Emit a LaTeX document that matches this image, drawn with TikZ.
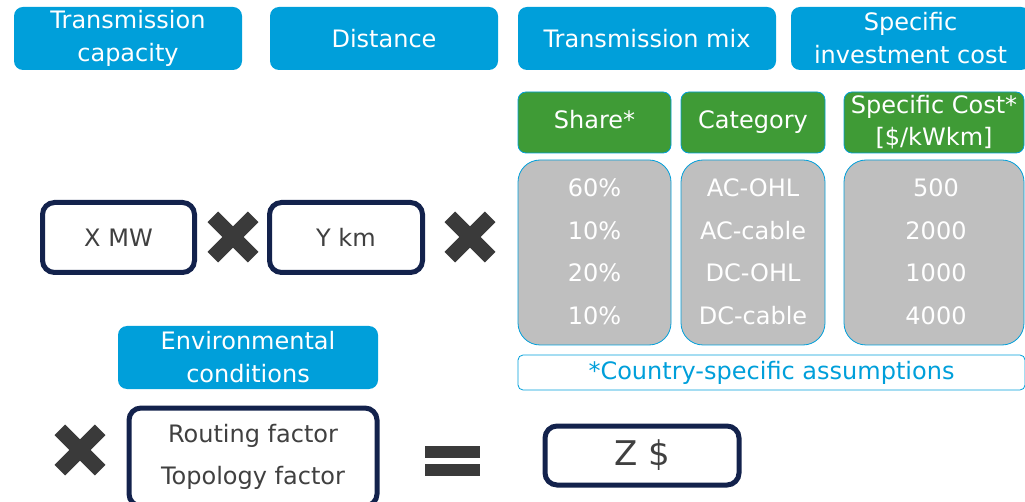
\documentclass[tikz,border=0pt]{standalone}
\usepackage{fontspec}
\setmainfont{DejaVu Sans}

\definecolor{capblue}{HTML}{009FDA}
\definecolor{mixgreen}{HTML}{3F9B36}
\definecolor{cellgray}{HTML}{BFBFBF}
\definecolor{framenavy}{HTML}{13224C}
\definecolor{markgray}{HTML}{3A3A3A}
\definecolor{valtext}{HTML}{404040}

\tikzset{
  txt/.style={font=\fontsize{24}{33}\selectfont, align=center, inner sep=0pt},
  % blue parameter headers
  param/.style={txt, fill=capblue, text=white, rounded corners=9pt, minimum height=63pt},
  % green column headers
  colhead/.style={txt, fill=mixgreen, draw=capblue, line width=0.8pt, text=white,
    rounded corners=8pt, minimum height=61pt, font=\fontsize{24}{32}\selectfont},
  column/.style={fill=cellgray, draw=capblue, line width=0.8pt, rounded corners=22pt,
    minimum height=185pt, inner sep=0pt},
  cell/.style={txt, text=white},
  % framed input / result values
  value/.style={txt, draw=framenavy, line width=5pt, rounded corners=12pt, fill=white,
    text=valtext, font=\fontsize{24}{42}\selectfont},
  pics/crossmark/.style={code={
    \fill[markgray, rotate=45] (-28.5pt,-7.5pt) rectangle (28.5pt,7.5pt);
    \fill[markgray, rotate=-45] (-28.5pt,-7.5pt) rectangle (28.5pt,7.5pt);
  }},
  pics/equalsmark/.style={code={
    \fill[markgray] (-27.5pt,-16pt) rectangle (27.5pt,-4pt);
    \fill[markgray] (-27.5pt,2pt) rectangle (27.5pt,14pt);
  }}
}

\begin{document}
\begin{tikzpicture}[x=1pt, y=-1pt]
  \useasboundingbox (0,0) rectangle (1025,502);
  \clip (0,0) rectangle (1025,502);

  % parameter headers
  \node[param, minimum width=228pt] (capacity) at (128,38.5) {Transmission\\capacity};
  \node[param, minimum width=228pt] (distance) at (384,38.5) {Distance};
  \node[param, minimum width=258pt] (mix) at (647,38.5) {Transmission mix};
  \node[param, minimum width=239pt] (invest) at (910.5,38.5) {Specific\\investment cost};

  % transmission mix table
  \node[colhead, minimum width=153pt, execute at begin node=\strut] (share)
    at (594.5,122.5) {Share*};
  \node[colhead, minimum width=144pt, execute at begin node=\strut] (category)
    at (753,122.5) {Category};
  \node[colhead, minimum width=180pt] (cost) at (934,122.5) {Specific Cost*\\{[\$/kWkm]}};

  \node[column, minimum width=153pt] (sharecol) at (594.5,252.5) {};
  \node[column, minimum width=144pt] (catcol) at (753,252.5) {};
  \node[column, minimum width=180pt] (costcol) at (934,252.5) {};

  \foreach \sh/\ca/\co [count=\i] in {60\%/AC-OHL/500, 10\%/AC-cable/2000,
      20\%/DC-OHL/1000, 10\%/DC-cable/4000} {
    \node[cell] (share\i) at (594.5,145.5+42.5*\i) {\sh};
    \node[cell] (cat\i) at (753,145.5+42.5*\i) {\ca};
    \node[cell] (cost\i) at (936,145.5+42.5*\i) {\co};
  }

  \node[txt, draw=capblue, line width=0.8pt, rounded corners=5pt, text=capblue,
    minimum width=507pt, minimum height=35pt] (note) at (771.5,372.5)
    {*Country-specific assumptions};

  % inputs
  \node[value, minimum width=152pt, minimum height=70pt] (mw) at (118.5,237.5) {X MW};
  \pic (times1) at (233,237) {crossmark};
  \node[value, minimum width=153pt, minimum height=70pt] (km) at (346,237.5) {Y km};
  \pic (times2) at (470,237) {crossmark};

  % environmental conditions
  \node[param, minimum width=260pt] (env) at (248,357.5) {Environmental\\conditions};
  \pic (times3) at (80,450) {crossmark};
  \node[value, minimum width=248pt, minimum height=98pt] (factors) at (253,457)
    {Routing factor\\Topology factor};

  % result
  \pic (equals) at (452.5,460) {equalsmark};
  \node[value, minimum width=194pt, minimum height=59pt, font=\fontsize{34}{40}\selectfont]
    (total) at (642,455.5) {Z \$};
\end{tikzpicture}
\end{document}
